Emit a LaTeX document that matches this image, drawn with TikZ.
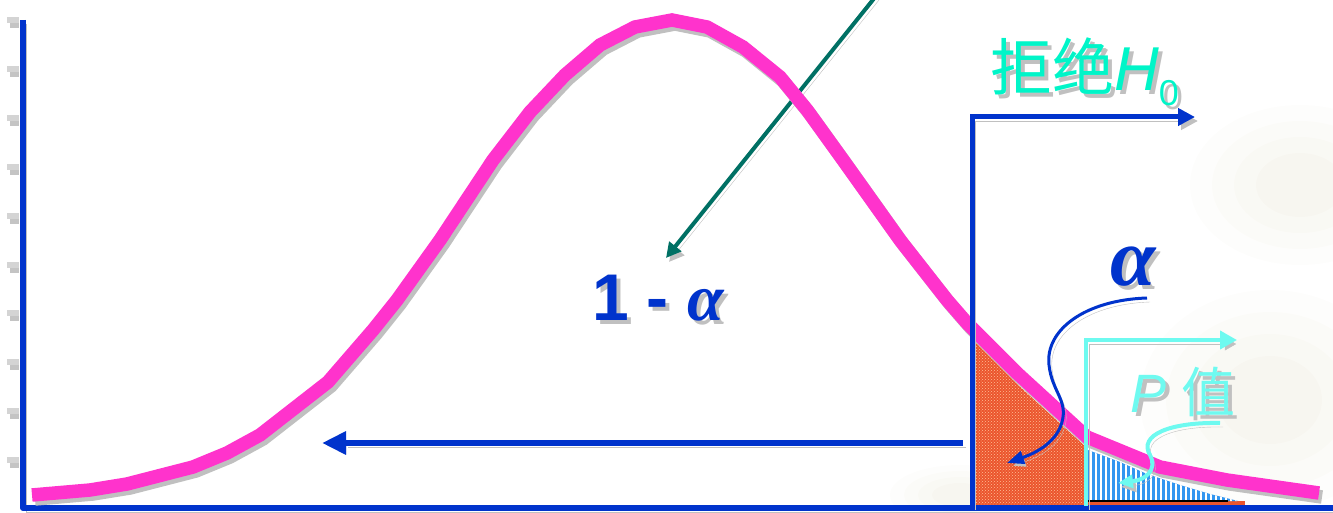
\documentclass[tikz,border=0pt]{standalone}
\usepackage{fontspec}
\setmainfont{Liberation Sans}
\newfontfamily\cjk{Noto Sans CJK SC}
\newfontfamily\tms{Liberation Serif}
\usetikzlibrary{arrows.meta,patterns}
\definecolor{axisblue}{RGB}{0,51,204}
\definecolor{curvepink}{RGB}{255,51,204}
\definecolor{tealarrow}{RGB}{0,112,100}
\definecolor{rejcol}{RGB}{0,245,200}
\definecolor{pcol}{RGB}{110,250,240}
\definecolor{shgray}{RGB}{192,192,192}
\definecolor{tickgray}{RGB}{212,212,212}
\definecolor{tickdark}{RGB}{196,196,196}
\definecolor{redfill}{RGB}{235,85,45}
\definecolor{bluefill}{RGB}{50,150,240}
\definecolor{beige}{RGB}{238,236,222}
\newcommand{\shtext}[2]{\makebox[0pt][l]{\hspace{4pt}\raisebox{-4pt}{\color{shgray}#2}}{\color{#1}#2}}
\tikzset{
  shad/.style={preaction={draw=shgray, transform canvas={shift={(3pt,-4pt)}}}},
  lbl/.style={anchor=base west, inner sep=0pt, outer sep=0pt},
}
\def\bell{(32,495) -- (90,490) -- (127,484) -- (193,467) -- (227,453) -- (260,435) -- (328,382) -- (373,330) -- (397,300) -- (440,240) -- (493,160) -- (530,112) -- (565,75) -- (600,45) -- (635,27) -- (672,20) -- (707,27) -- (743,47) -- (780,77) -- (807,110) -- (843,160) -- (900,240) -- (947,300) -- (967,323) -- (1017,373) -- (1087,437) -- (1160,467) -- (1227,480) -- (1319,493)}
\begin{document}
\begin{tikzpicture}[x=1pt,y=-1pt]
\useasboundingbox (0,0) rectangle (1333,513);
% faint background texture
\begin{scope}
\clip (0,0) rectangle (1333,513);
\foreach \r/\o in {1/0.10,0.8/0.12,0.6/0.15,0.4/0.2} {
  \fill[beige, opacity=\o] (1300,185) ellipse ({110*\r} and {80*\r});
  \fill[beige, opacity=\o] (1270,400) ellipse ({130*\r} and {110*\r});
  \fill[beige, opacity=\o] (960,495) ellipse ({70*\r} and {30*\r});
}
\end{scope}
% rejection region alpha (orange dotted)
\begin{scope}
\clip (975,300) rectangle (1086,506);
\fill[redfill, shift={(0,11)}] \bell -- (1320,506) -- (30,506) -- cycle;
\fill[pattern=crosshatch dots, pattern color={rgb,255:red,255;green,190;blue,150}, shift={(0,11)}] \bell -- (1320,506) -- (30,506) -- cycle;
\end{scope}
% thin orange strip under p region
\fill[redfill] (1088,501) rectangle (1245,505);
% p-value region (blue stripes)
\begin{scope}
\clip (1088,450) -- (1120,462) -- (1147,474) -- (1180,485) -- (1210,494) -- (1238,501) -- (1088,501) -- cycle;
\fill[bluefill] (1088,440) rectangle (1240,505);
\foreach \x in {1091,1096,...,1240} \draw[white, line width=1.3] (\x,440) -- (\x,505);
\end{scope}
\draw[black, line width=1.5] (1088,501) -- (1228,501);
% ticks
\foreach \i in {0,...,9} {
  \fill[tickdark] (10,{22+48.9*\i}) rectangle (19,{28+48.9*\i});
  \fill[tickgray] (7,{17+48.9*\i}) rectangle (19,{23+48.9*\i});
}
% teal arrow
\coordinate (tS) at (876,-4);
\coordinate (tE) at (666,258);
\draw[tealarrow, line width=4, shad, -{Triangle[length=15pt,width=15pt]}] (tS) -- (tE);
% axes
\coordinate (yTop) at (23,20);
\coordinate (orig) at (23,508);
\coordinate (xEnd) at (1340,508);
\draw[axisblue, line width=6, line join=round, shad] (yTop) -- (orig) -- (xEnd);
% bell curve
\draw[shgray, line width=13.5, shift={(3,4)}] \bell;
\draw[curvepink, line width=13.5] \bell;
% p-value bracket
\coordinate (pB) at (1086,506);
\coordinate (pT) at (1086,340);
\coordinate (pE) at (1237,340);
\draw[pcol, line width=4, shad, -{Triangle[length=17pt,width=18pt]}] (pB) -- (pT) -- (pE);
% reject H0 bracket
\coordinate (rB) at (972,506);
\coordinate (rT) at (972,117);
\coordinate (rE) at (1195,117);
\draw[axisblue, line width=5, shad, -{Triangle[length=17pt,width=17pt]}] (rB) -- (rT) -- (rE);
% acceptance arrow
\coordinate (accS) at (963,443);
\coordinate (accE) at (322,443);
\draw[axisblue, line width=6, shad, -{Triangle[length=24pt,width=22pt]}] (accS) -- (accE);
% alpha arrow
\coordinate (aS) at (1147,298);
\coordinate (aE) at (1007,463);
\draw[axisblue, line width=3, shad, -{Triangle[length=17pt,width=13pt]}] (aS) .. controls (1085,300) and (1045,330) .. (1049,365) .. controls (1052,392) and (1068,400) .. (1062,422) .. controls (1056,445) and (1030,455) .. (aE);
% p arrow
\coordinate (cS) at (1220,423);
\coordinate (cE) at (1118,483);
\draw[pcol, line width=4, shad, -{Triangle[length=15pt,width=13pt]}] (cS) .. controls (1170,422) and (1138,435) .. (1150,455) .. controls (1158,470) and (1145,480) .. (cE);
% labels
\node[lbl] (oma) at (592,320) {\fontsize{66}{70}\selectfont\bfseries\shtext{axisblue}{1 - {\tms\bfseries\itshape α}}};
\node[lbl] (rej) at (990,91) {\fontsize{62}{66}\selectfont\shtext{rejcol}{{\cjk 拒绝}\textit{H}\raisebox{-15pt}{\fontsize{36}{40}\selectfont 0}}};
\node[lbl] (al) at (1110,285) {\fontsize{82}{86}\selectfont\tms\bfseries\itshape\shtext{axisblue}{α}};
\node[lbl] (pv) at (1130,412) {\fontsize{54}{58}\selectfont\shtext{pcol}{\textit{P} {\cjk 值}}};
\end{tikzpicture}
\end{document}
